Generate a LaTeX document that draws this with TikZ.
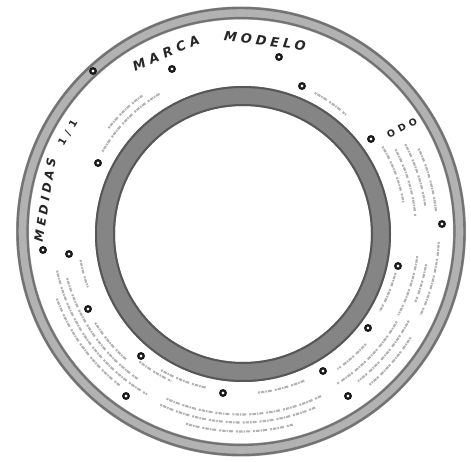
\documentclass[tikz,border=0pt]{standalone}
\usepackage{fontspec}
\newfontfamily\lblfont{DejaVu Sans}
\newcommand\textarc[3]{\draw[txt] ([shift={(C)}]#1:#3pt) arc[start angle=#1,end angle=#2,radius=#3pt];}
\begin{document}
\begin{tikzpicture}[x=1pt,y=1pt,
  hole/.style={circle,draw=black!90,line width=2.3pt,fill=white,minimum size=5.5pt,inner sep=0pt},
  txt/.style={black!30,line width=2.1pt,dash pattern=on 2pt off 1pt on 3.5pt off 1pt on 1.5pt off 1pt on 4pt off 3pt},
  lbl/.style={inner sep=0pt,text=black!85},
]
\useasboundingbox (0,0) rectangle (471,461);
\coordinate (C) at (241,229.5);
\coordinate (Ci) at (243,227);
% outer band
\fill[black!30,even odd rule] (C) circle[radius=225pt] (C) circle[radius=212pt];
\draw[black!55,line width=2.4pt] (C) circle[radius=223.5pt];
\draw[black!55,line width=2.2pt] (C) circle[radius=213.5pt];
% inner ring
\fill[black!48,even odd rule] (Ci) circle[radius=148pt] (Ci) circle[radius=128pt];
\draw[black!66,line width=2pt] (Ci) circle[radius=147pt];
\draw[black!66,line width=2pt] (Ci) circle[radius=129pt];
% faint small print
\textarc{150}{120}{160}
\textarc{142}{126}{168}
\textarc{62}{48}{157}
\textarc{31}{10}{165}
\textarc{28}{5}{175}
\textarc{28}{8}{186}
\textarc{25}{6}{196}
\textarc{-3}{-25}{198}
\textarc{-15}{-30}{160}
\textarc{-8}{-28}{178}
\textarc{-10}{-22}{188}
\textarc{-42}{-55}{168}
\textarc{-30}{-58}{180}
\textarc{-28}{-52}{190}
\textarc{-32}{-50}{200}
\textarc{-114}{-64}{183}
\textarc{-115}{-67}{191}
\textarc{-106}{-75}{200}
\textarc{-120}{-102}{160}
\textarc{-84}{-66}{162}
\textarc{190}{200}{163}
\textarc{212}{228}{172}
\textarc{195}{235}{180}
\textarc{192}{240}{188}
\textarc{200}{232}{196}
\textarc{232}{245}{165}
% labels
\node[rotate=23,lbl,font=\lblfont\bfseries\itshape\fontsize{13}{13}\selectfont\addfontfeature{LetterSpace=36}] (marca) at (166,408) {MARCA};
\node[rotate=-7,lbl,font=\lblfont\bfseries\itshape\fontsize{13}{13}\selectfont\addfontfeature{LetterSpace=30}] (modelo) at (265,420) {MODELO};
\node[rotate=81,lbl,font=\lblfont\bfseries\itshape\fontsize{12}{12}\selectfont\addfontfeature{LetterSpace=30}] (medidas) at (45,261) {MEDIDAS};
\node[rotate=60,lbl,font=\lblfont\bfseries\fontsize{10}{10}\selectfont\addfontfeature{LetterSpace=55}] (frac) at (68,328) {1/1};
\node[rotate=28,lbl,font=\lblfont\bfseries\fontsize{9.5}{9.5}\selectfont\addfontfeature{LetterSpace=45}] (odo) at (402,333) {ODO};
% holes
\node[hole] (d1) at (93,390) {};
\node[hole] (d2) at (172,392) {};
\node[hole] (d3) at (279,404) {};
\node[hole] (d4) at (302,375) {};
\node[hole] (d5) at (371,322) {};
\node[hole] (d6) at (442,237) {};
\node[hole] (d7) at (398,195) {};
\node[hole] (d8) at (368,133) {};
\node[hole] (d9) at (323,90) {};
\node[hole] (d10) at (348,65) {};
\node[hole] (d11) at (223,68) {};
\node[hole] (d12) at (126,65) {};
\node[hole] (d13) at (141,105) {};
\node[hole] (d14) at (88,152) {};
\node[hole] (d15) at (69,207) {};
\node[hole] (d16) at (43,211) {};
\node[hole] (d17) at (98,298) {};
\end{tikzpicture}
\end{document}
